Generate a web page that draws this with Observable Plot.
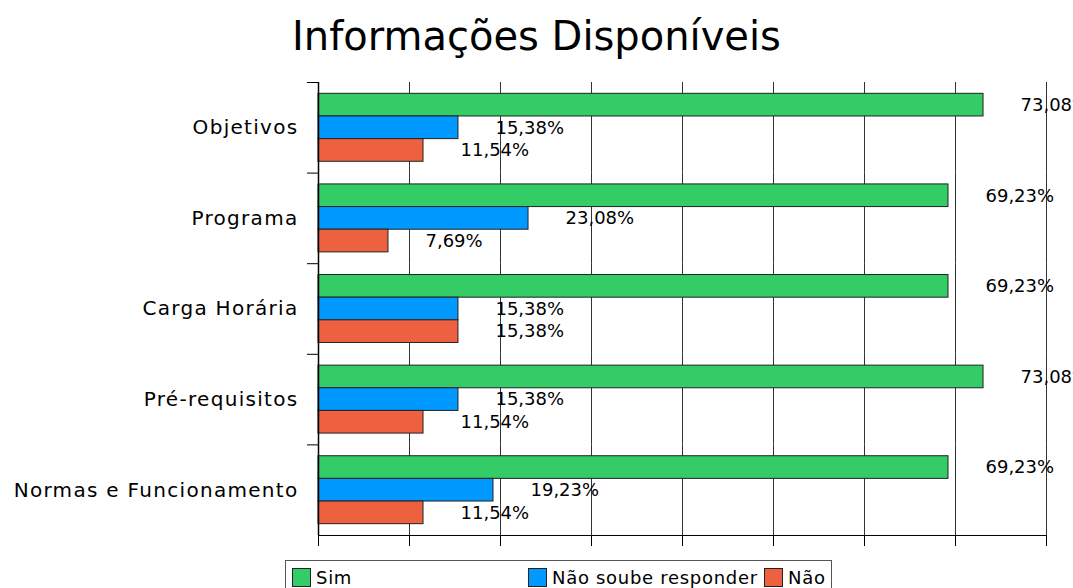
<!DOCTYPE html>
<html>
<head>
<meta charset="utf-8">
<script src="https://cdn.jsdelivr.net/npm/d3@7"></script>
<script src="https://cdn.jsdelivr.net/npm/@observablehq/plot@0.6"></script>
<style>
  body { margin: 0; background: #fff; font-family: "DejaVu Sans", sans-serif; }
  #wrap { position: relative; width: 1073px; height: 588px; overflow: hidden; }
  #title { position: absolute; left: 0; top: 13px; width: 1073px; text-align: center; font-size: 40px; line-height: 46px; color: #000; }
  #chart { position: absolute; left: 0; top: 76px; }
  #chart svg g[aria-label="fy-axis tick label"] text { letter-spacing: 1.3px; }
  #legend { position: absolute; left: 285px; top: 560px; width: 547px; height: 34px; border: 1px solid #555; box-sizing: border-box; font-size: 18px; letter-spacing: 0.7px; }
  .item { position: absolute; top: 6px; display: flex; align-items: center; }
  .sw { width: 17px; height: 17px; border: 1px solid #222; margin-right: 5px; }
</style>
</head>
<body>
<div id="wrap">
  <div id="title">Informações Disponíveis</div>
  <div id="chart"></div>
  <div id="legend"></div>
</div>
<script>
const categories = ["Objetivos", "Programa", "Carga Horária", "Pré-requisitos", "Normas e Funcionamento"];
const series = ["Sim", "Não soube responder", "Não"];
const sim = [73.08, 69.23, 69.23, 73.08, 69.23];
const naoSoube = [15.38, 23.08, 15.38, 15.38, 19.23];
const nao = [11.54, 7.69, 15.38, 11.54, 11.54];
const colors = ["#33CC66", "#0099FF", "#EE6140"];
const xTicks = [0, 10, 20, 30, 40, 50, 60, 70, 80];

const valuesBySeries = [sim, naoSoube, nao];
const data = [];
categories.forEach((c, i) => {
  series.forEach((s, j) => {
    data.push({category: c, series: s, value: valuesBySeries[j][i]});
  });
});
const fmt = v => v.toFixed(2).replace(".", ",") + "%";

const plot = Plot.plot({
  width: 1073,
  height: 480,
  marginTop: 6,
  marginBottom: 21,
  marginLeft: 318,
  marginRight: 27,
  style: {fontFamily: "DejaVu Sans", background: "transparent", overflow: "hidden"},
  x: {domain: [0, 80]},
  fy: {domain: categories, padding: 0, round: false},
  y: {domain: series, paddingInner: 0, paddingOuter: 0.5, round: false, axis: null},
  color: {domain: series, range: colors},
  marks: [
    Plot.gridX(xTicks, {stroke: "#333", strokeOpacity: 1, strokeWidth: 1}),
    Plot.barX(data, {x: "value", y: "series", fy: "category", fill: "series", stroke: "#222", strokeWidth: 1}),
    Plot.text(data, {x: "value", y: "series", fy: "category", text: d => fmt(d.value), textAnchor: "start", dx: 37, fontSize: 18, fill: "#000"}),
    Plot.ruleX([0], {stroke: "#000", strokeWidth: 1.5}),
    Plot.axisFy({anchor: "left", tickSize: 0, tickPadding: 20, fontSize: 20, label: null, fill: "#000"}),
    Plot.axisFy({anchor: "left", tickSize: 11, tickFormat: () => "", dy: -45.3, label: null, stroke: "#000"}),
    Plot.axisX(xTicks, {anchor: "bottom", tickSize: 11, tickFormat: () => "", label: null, stroke: "#000"}),
    Plot.frame({anchor: "bottom", facetAnchor: "bottom", stroke: "#000"})
  ]
});
document.getElementById("chart").appendChild(plot);

const legend = document.getElementById("legend");
series.forEach((s, j) => {
  const it = document.createElement("div");
  it.className = "item";
  it.style.left = (6 + j * 236) + "px";
  const sw = document.createElement("div");
  sw.className = "sw";
  sw.style.background = colors[j];
  const t = document.createElement("span");
  t.textContent = s;
  it.appendChild(sw);
  it.appendChild(t);
  legend.appendChild(it);
});
</script>
</body>
</html>
